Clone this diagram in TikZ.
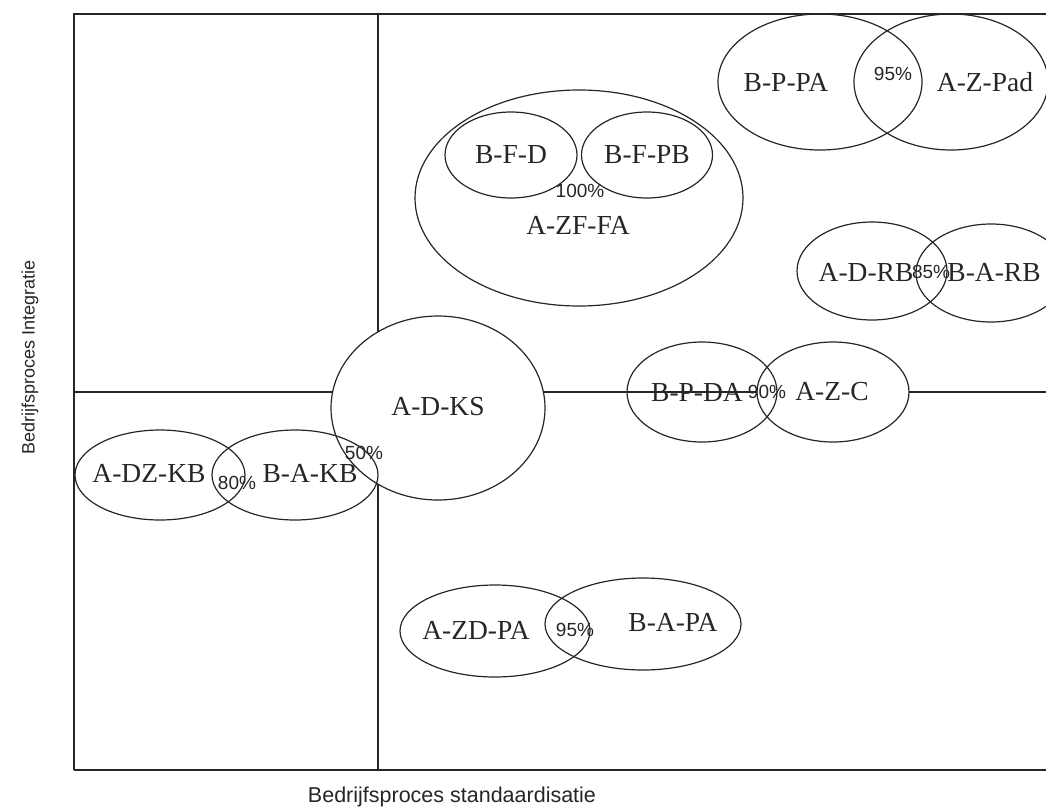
\documentclass[tikz,border=0pt]{standalone}
\usepackage{fontspec}
\usetikzlibrary{shapes.geometric}
\newfontfamily\lblserif{Liberation Serif}
\newfontfamily\lblsans{Liberation Sans}
\begin{document}
\begin{tikzpicture}[x=1pt,y=-1pt,
  axisline/.style={line width=1.6pt, draw=black!85},
  blob/.style={ellipse, draw=black!85, line width=1.2pt, inner sep=0pt, outer sep=0pt},
  lbl/.style={font=\lblserif\fontsize{27.5}{30}\selectfont, text=black!85, inner sep=0pt},
  pct/.style={font=\lblsans\fontsize{19}{21}\selectfont, text=black!85, inner sep=0pt},
  axlbl/.style={font=\lblsans\fontsize{18}{20}\selectfont, text=black!85, inner sep=0pt}]
\useasboundingbox (0,0) rectangle (1046,809);
\clip (0,0) rectangle (1046,809);

% frame and quadrant dividers
\coordinate (tl) at (74,14);
\coordinate (bl) at (74,770);
\coordinate (tr) at (1060,14);
\coordinate (br) at (1060,770);
\coordinate (vt) at (378,14);
\coordinate (vb) at (378,770);
\coordinate (hl) at (74,392);
\coordinate (hr) at (1060,392);
\draw[axisline] (bl) -- (tl) -- (tr);
\draw[axisline] (bl) -- (br);
\draw[axisline] (vt) -- (vb);
\draw[axisline] (hl) -- (hr);

% ellipses
\node[blob, fill=white, minimum width=214pt, minimum height=184pt] (adks) at (438,408) {};
\node[blob, fill=white, minimum width=152pt, minimum height=100pt] (azc) at (833,392) {};
\node[blob, minimum width=150pt, minimum height=100pt] (bpda) at (702,392) {};

\node[blob, minimum width=204pt, minimum height=136pt] (bppa) at (820,82) {};
\node[blob, minimum width=194pt, minimum height=136pt] (azpad) at (951,82) {};

\node[blob, minimum width=328pt, minimum height=216pt] (azffa) at (579,198) {};
\node[blob, minimum width=132pt, minimum height=86pt] (bfd) at (511,155) {};
\node[blob, minimum width=131pt, minimum height=86pt] (bfpb) at (647,155) {};

\node[blob, minimum width=150pt, minimum height=98pt] (adrb) at (872,271) {};
\node[blob, minimum width=150pt, minimum height=98pt] (barb) at (991,273) {};

\node[blob, minimum width=170pt, minimum height=90pt] (adzkb) at (160,475) {};
\node[blob, minimum width=166pt, minimum height=90pt] (bakb) at (295,475) {};

\node[blob, minimum width=190pt, minimum height=92pt] (azdpa) at (495,631) {};
\node[blob, minimum width=196pt, minimum height=92pt] (bapa) at (643,624) {};

% labels
\node[lbl] (t-bppa) at (786,82) {B-P-PA};
\node[lbl] (t-azpad) at (985,82) {A-Z-Pad};
\node[pct] (p-top) at (893,74) {95\%};

\node[lbl] (t-bfd) at (511,155) {B-F-D};
\node[lbl] (t-bfpb) at (647,155) {B-F-PB};
\node[pct] (p-ff) at (580,191) {100\%};
\node[lbl] (t-azffa) at (578,225) {A-ZF-FA};

\node[lbl] (t-adrb) at (866,272) {A-D-RB};
\node[pct] (p-rb) at (931,272) {85\%};
\node[lbl] (t-barb) at (994,272) {B-A-RB};

\node[lbl] (t-bpda) at (697,392) {B-P-DA};
\node[pct] (p-da) at (767,392) {90\%};
\node[lbl] (t-azc) at (832,392) {A-Z-C};

\node[lbl] (t-adks) at (438,407) {A-D-KS};
\node[pct] (p-ks) at (364,453) {50\%};

\node[lbl] (t-adzkb) at (149,473) {A-DZ-KB};
\node[pct] (p-kb) at (237,483) {80\%};
\node[lbl] (t-bakb) at (310,473) {B-A-KB};

\node[lbl] (t-azdpa) at (476,630) {A-ZD-PA};
\node[pct] (p-pa) at (575,630) {95\%};
\node[lbl] (t-bapa) at (673,622) {B-A-PA};

% axis captions
\node[axlbl, font=\lblsans\fontsize{21.5}{24}\selectfont] (xcap) at (452,797) {Bedrijfsproces standaardisatie};
\node[axlbl, rotate=90] (ycap) at (30,357) {Bedrijfsproces Integratie};
\end{tikzpicture}
\end{document}
